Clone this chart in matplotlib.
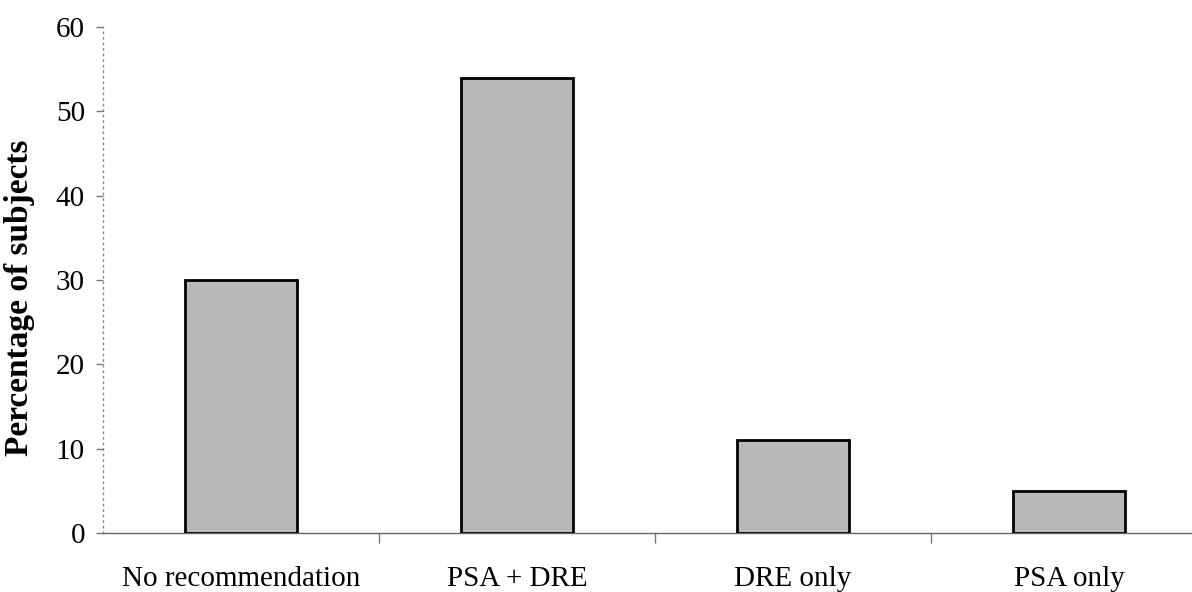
import matplotlib.pyplot as plt

plt.rcParams['font.family'] = ['Liberation Serif', 'DejaVu Serif']

categories = ["No recommendation", "PSA + DRE", "DRE only", "PSA only"]
percentages = [30, 54, 11, 5]
y_ticks = [0, 10, 20, 30, 40, 50, 60]

fig = plt.figure(figsize=(11.92, 5.92), dpi=100)
ax = fig.add_axes([103 / 1192, 59 / 592, 1089 / 1192, 506 / 592])

x = range(len(categories))
ax.bar(x, percentages, width=0.405, color="#b9b9b9", edgecolor="black", linewidth=2, zorder=3)

ax.set_xlim(-0.5, -0.5 + 1089 / 276)
ax.set_ylim(0, 60)

# spines: dotted grey y axis, thin grey x axis
for side in ["top", "right"]:
    ax.spines[side].set_visible(False)
ax.spines["left"].set_color("#888888")
ax.spines["left"].set_linestyle((0, (1, 3)))
ax.spines["left"].set_linewidth(1)
ax.spines["bottom"].set_color("#666666")
ax.spines["bottom"].set_linestyle((0, (8, 1, 2, 1)))
ax.spines["bottom"].set_linewidth(1)

ax.set_yticks(y_ticks)
ax.set_yticklabels([str(t) for t in y_ticks], fontsize=21)
ax.tick_params(axis="y", length=5, width=1, color="#777777", pad=8)

# category boundaries as ticks, labels at centres
ax.set_xticks([0.5, 1.5, 2.5])
ax.set_xticklabels([])
ax.set_xticks(list(x), minor=True)
ax.set_xticklabels(categories, minor=True, fontsize=21)
ax.tick_params(axis="x", which="major", length=7, width=1, color="#777777")
ax.tick_params(axis="x", which="minor", length=0, pad=24)

ax.set_ylabel("Percentage of subjects", fontsize=24, fontweight="bold")
ax.yaxis.set_label_coords(-0.0624, 0.465)

plt.savefig("out.png", dpi=100)
